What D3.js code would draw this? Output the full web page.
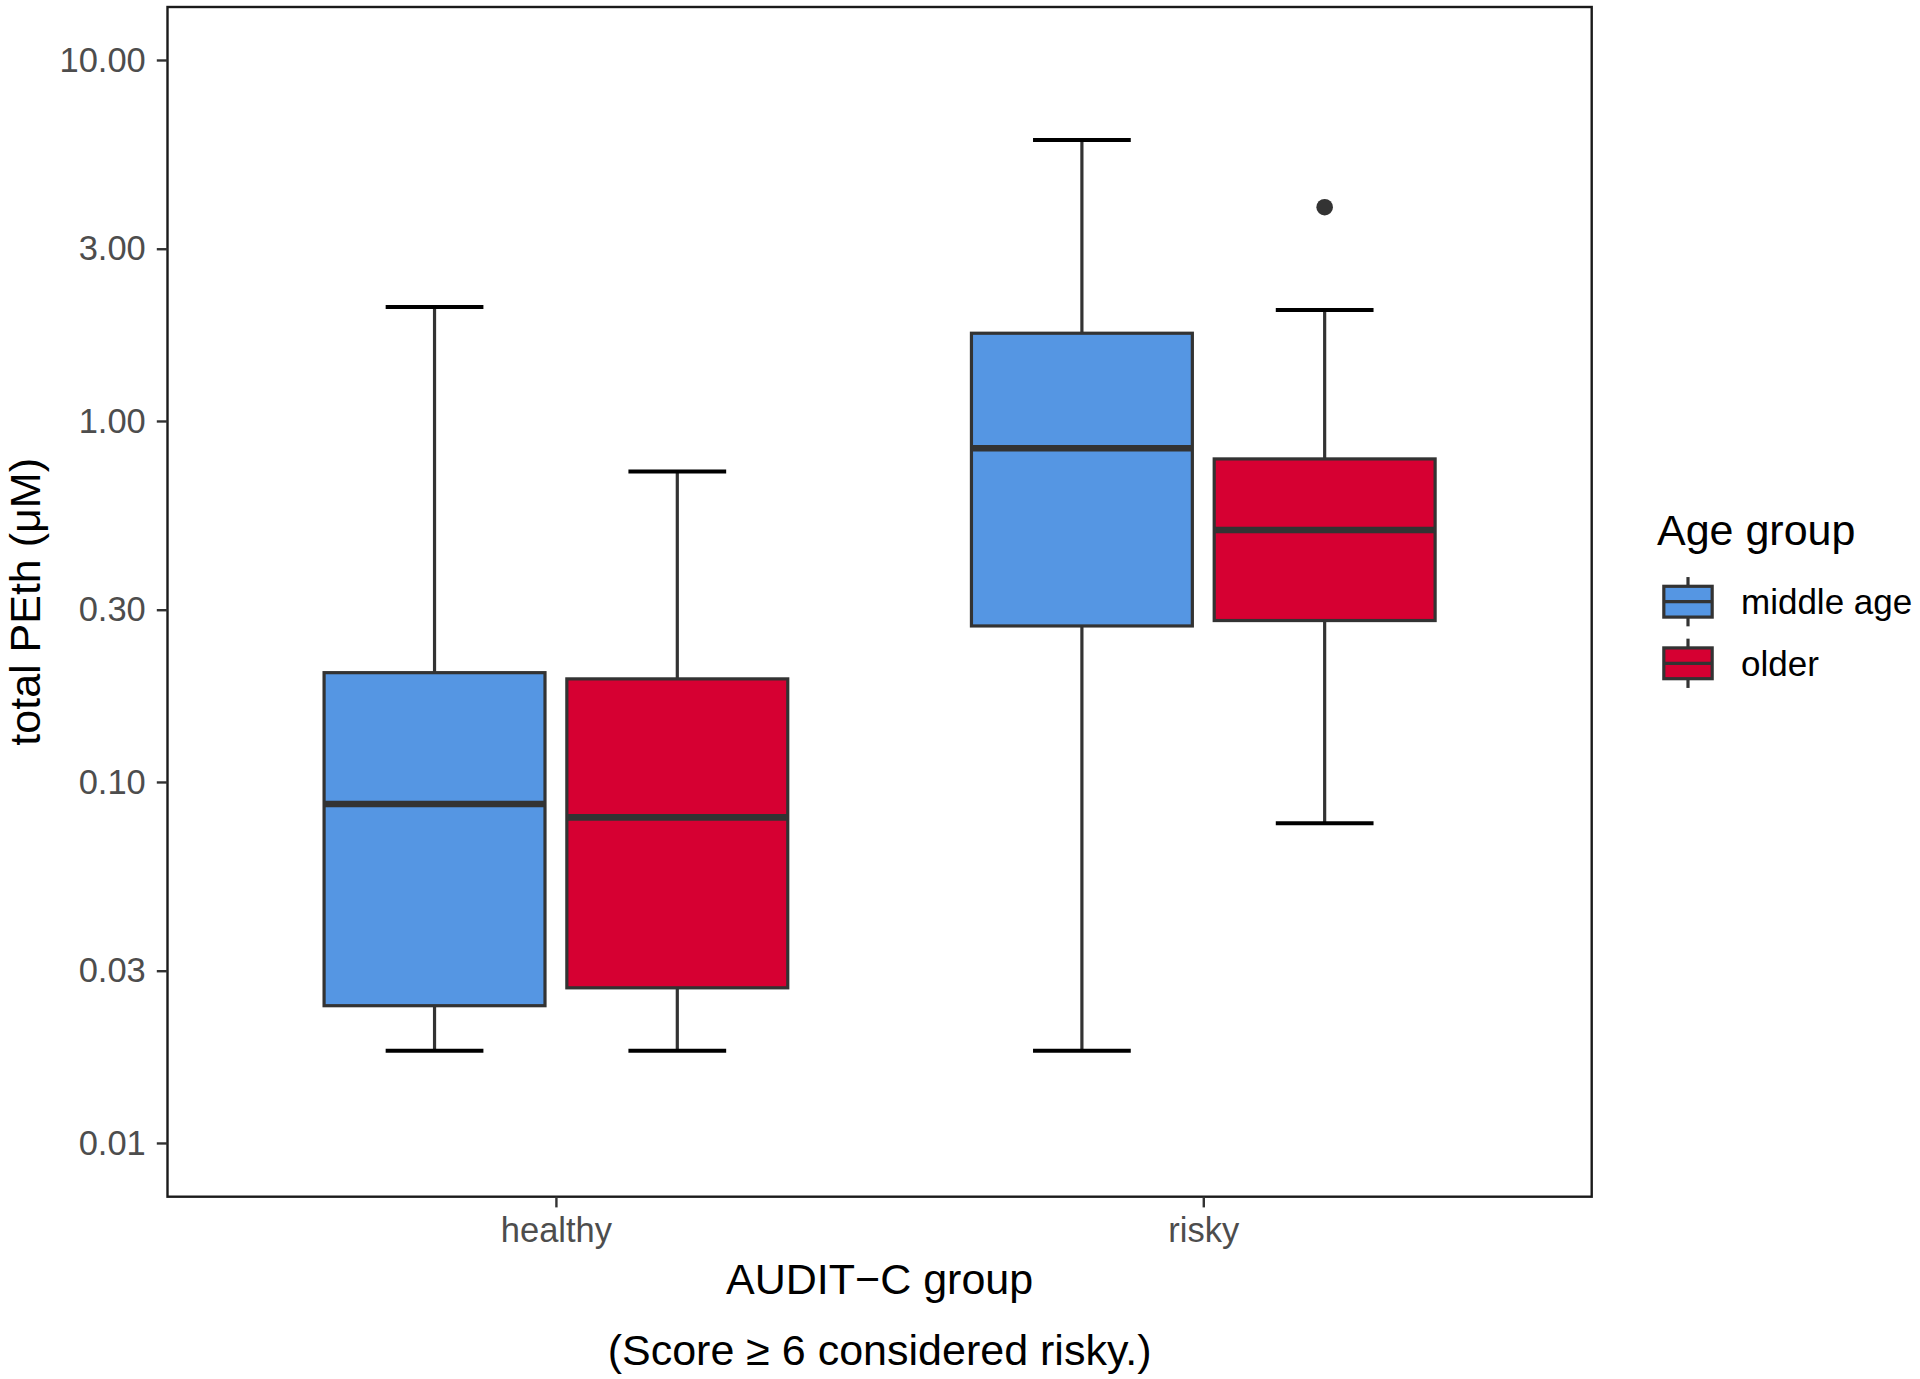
<!DOCTYPE html>
<html>
<head>
<meta charset="utf-8">
<script src="https://cdn.jsdelivr.net/npm/d3@7"></script>
<style>
  html, body { margin: 0; padding: 0; background: #ffffff; }
  svg { display: block; }
  text { font-family: "Liberation Sans", Arial, Helvetica, sans-serif; }
</style>
</head>
<body>
<svg id="chart" width="1920" height="1379"></svg>
<script>
// ---------------- data ----------------
const categories = ["healthy", "risky"];
const groups = ["middle age", "older"];
const groupColors = ["#5596E3", "#D60032"];

// one entry per box: healthy/middle age, healthy/older, risky/middle age, risky/older
const boxCategory = ["healthy", "healthy", "risky", "risky"];
const boxGroup = ["middle age", "older", "middle age", "older"];
const lowerWhisker = [0.018, 0.018, 0.018, 0.0768];
const q1 = [0.0240, 0.0269, 0.2705, 0.280];
const median = [0.0869, 0.0798, 0.840, 0.499];
const q3 = [0.2008, 0.193, 1.75, 0.785];
const upperWhisker = [2.07, 0.725, 6.0, 2.03];

const outlierCategory = ["risky"];
const outlierGroup = ["older"];
const outlierValue = [3.91];

const yTickValues = [0.01, 0.03, 0.10, 0.30, 1.00, 3.00, 10.00];

// ---------------- layout ----------------
const panel = { left: 167.5, right: 1591.7, top: 7, bottom: 1196.7 };
const svg = d3.select("#chart");

const x = d3.scalePoint().domain(categories).range([panel.left, panel.right]).padding(0.6);
const step = x.step();
const xSub = d3.scaleBand().domain(groups)
  .range([-0.375 * step, 0.375 * step]).paddingInner(0.09).paddingOuter(0.045);
const color = d3.scaleOrdinal().domain(groups).range(groupColors);
const y = d3.scaleLog().domain([0.007098, 14.02]).range([panel.bottom, panel.top]);

const boxes = boxCategory.map((c, i) => ({
  cat: c, group: boxGroup[i], lo: lowerWhisker[i], q1: q1[i], med: median[i], q3: q3[i], hi: upperWhisker[i]
}));
const outliers = outlierCategory.map((c, i) => ({ cat: c, group: outlierGroup[i], v: outlierValue[i] }));

const lineCol = "#333333";
const boxLW = 3.2;
const capW = 0.151 * step;

const g = svg.append("g");

// whiskers
boxes.forEach(b => {
  const cx = x(b.cat) + xSub(b.group) + xSub.bandwidth() / 2;
  g.append("line").attr("x1", cx).attr("x2", cx).attr("y1", y(b.hi)).attr("y2", y(b.q3))
    .attr("stroke", lineCol).attr("stroke-width", boxLW);
  g.append("line").attr("x1", cx).attr("x2", cx).attr("y1", y(b.q1)).attr("y2", y(b.lo))
    .attr("stroke", lineCol).attr("stroke-width", boxLW);
  // error-bar caps
  [b.hi, b.lo].forEach(v => {
    g.append("line").attr("x1", cx - capW / 2).attr("x2", cx + capW / 2)
      .attr("y1", y(v)).attr("y2", y(v))
      .attr("stroke", "#000000").attr("stroke-width", 4);
  });
});

// boxes
boxes.forEach(b => {
  const x0 = x(b.cat) + xSub(b.group);
  g.append("rect").attr("x", x0).attr("y", y(b.q3))
    .attr("width", xSub.bandwidth()).attr("height", y(b.q1) - y(b.q3))
    .attr("fill", color(b.group)).attr("stroke", lineCol).attr("stroke-width", boxLW);
  g.append("line").attr("x1", x0).attr("x2", x0 + xSub.bandwidth())
    .attr("y1", y(b.med)).attr("y2", y(b.med))
    .attr("stroke", lineCol).attr("stroke-width", 6.6);
});

// outliers
outliers.forEach(o => {
  const cx = x(o.cat) + xSub(o.group) + xSub.bandwidth() / 2;
  g.append("circle").attr("cx", cx).attr("cy", y(o.v)).attr("r", 8.3).attr("fill", lineCol);
});

// panel border
svg.append("rect").attr("x", panel.left).attr("y", panel.top)
  .attr("width", panel.right - panel.left).attr("height", panel.bottom - panel.top)
  .attr("fill", "none").attr("stroke", "#1a1a1a").attr("stroke-width", 2.4);

// y axis
const yAxis = svg.append("g").attr("transform", `translate(${panel.left},0)`)
  .call(d3.axisLeft(y).tickValues(yTickValues).tickFormat(d3.format(".2f")).tickSize(10.7).tickPadding(11));
yAxis.select(".domain").remove();
yAxis.selectAll(".tick line").attr("stroke", "#333333").attr("stroke-width", 2.4);
yAxis.selectAll(".tick text").attr("fill", "#4D4D4D").attr("font-size", "34.5px")
  .attr("font-family", "'Liberation Sans', Arial, sans-serif");

// x axis
const xAxis = svg.append("g").attr("transform", `translate(0,${panel.bottom})`)
  .call(d3.axisBottom(x).tickSize(10.7).tickPadding(10));
xAxis.select(".domain").remove();
xAxis.selectAll(".tick line").attr("stroke", "#333333").attr("stroke-width", 2.4);
xAxis.selectAll(".tick text").attr("fill", "#4D4D4D").attr("font-size", "34.5px")
  .attr("font-family", "'Liberation Sans', Arial, sans-serif");

// axis titles
const midX = (panel.left + panel.right) / 2;
svg.append("text").attr("x", midX).attr("y", 1294).attr("text-anchor", "middle")
  .attr("font-size", "43px").attr("fill", "#000").text("AUDIT\u2212C group");
svg.append("text").attr("x", midX).attr("y", 1365).attr("text-anchor", "middle")
  .attr("font-size", "43px").attr("fill", "#000").text("(Score \u2265 6 considered risky.)");
svg.append("text")
  .attr("transform", `translate(39.5,${(panel.top + panel.bottom) / 2}) rotate(-90)`)
  .attr("text-anchor", "middle").attr("font-size", "43px").attr("fill", "#000")
  .text("total PEth (\u03BCM)");

// legend
const legX = 1657, keyW = 62, keyH = 61.6, firstKeyTop = 601.7 - keyH / 2;
svg.append("text").attr("x", legX).attr("y", 545).attr("font-size", "43px").attr("fill", "#000").text("Age group");
groups.forEach((grp, i) => {
  const top = firstKeyTop + i * keyH;
  const cx = legX + keyW / 2;
  const kg = svg.append("g");
  kg.append("line").attr("x1", cx).attr("x2", cx).attr("y1", top + 0.1 * keyH).attr("y2", top + 0.9 * keyH)
    .attr("stroke", lineCol).attr("stroke-width", boxLW);
  kg.append("rect").attr("x", legX + 0.11 * keyW).attr("y", top + 0.25 * keyH)
    .attr("width", 0.78 * keyW).attr("height", 0.5 * keyH)
    .attr("fill", color(grp)).attr("stroke", lineCol).attr("stroke-width", boxLW);
  kg.append("line").attr("x1", legX + 0.11 * keyW).attr("x2", legX + 0.89 * keyW)
    .attr("y1", top + 0.5 * keyH).attr("y2", top + 0.5 * keyH)
    .attr("stroke", lineCol).attr("stroke-width", boxLW);
  svg.append("text").attr("x", 1741).attr("y", top + keyH / 2).attr("dy", "0.36em")
    .attr("font-size", "35px").attr("fill", "#000").text(grp);
});
</script>
</body>
</html>
